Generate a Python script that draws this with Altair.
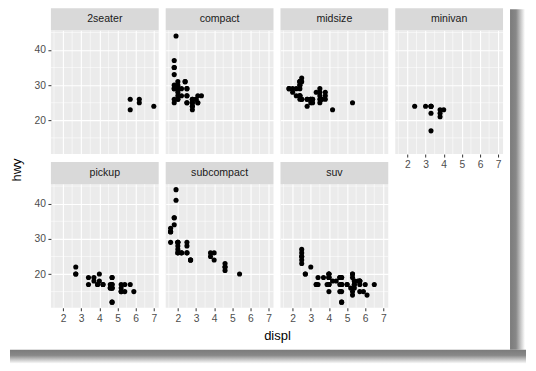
import altair as alt
import pandas as pd

# ---- data (mpg: displ vs hwy by class) ----
TWOSEATER_DISPL = [5.7, 5.7, 6.2, 6.2, 7.0]
TWOSEATER_HWY = [26, 23, 26, 25, 24]

COMPACT_DISPL = [1.8, 1.8, 2.0, 2.0, 2.8, 2.8, 3.1,
                 1.8, 1.8, 2.0, 2.0, 2.8, 2.8, 3.1, 3.1,
                 2.5, 2.5, 2.5, 2.5,
                 2.2, 2.2, 2.4, 2.4, 3.0, 3.0, 3.3,
                 1.8, 1.8, 1.8, 1.8, 1.8,
                 2.0, 2.0, 2.0, 2.0, 2.8,
                 1.9, 2.0, 2.0, 2.0, 2.0, 2.5, 2.5, 2.8, 2.8]
COMPACT_HWY = [29, 29, 31, 30, 26, 26, 27,
               26, 25, 28, 27, 25, 25, 25, 25,
               27, 25, 25, 27,
               27, 29, 31, 31, 26, 26, 27,
               30, 33, 35, 37, 35,
               29, 26, 29, 29, 24,
               44, 29, 26, 29, 29, 29, 29, 23, 24]

MIDSIZE_DISPL = [2.8, 3.1, 4.2,
                 2.4, 2.4, 3.1, 3.5, 3.6,
                 2.4, 2.4, 2.4, 2.4, 2.5, 2.5, 3.3,
                 2.4, 2.4, 2.5, 2.5, 3.5, 3.5,
                 3.0, 3.0, 3.5,
                 3.1, 3.8, 3.8, 3.8, 5.3,
                 2.2, 2.2, 2.4, 2.4, 3.0, 3.0, 3.5,
                 1.8, 1.8, 2.0, 2.0, 2.8, 2.8, 3.6]
MIDSIZE_HWY = [24, 25, 23,
               27, 30, 26, 29, 26,
               26, 27, 30, 31, 26, 26, 28,
               29, 27, 31, 32, 27, 26,
               26, 25, 25,
               26, 26, 27, 28, 25,
               29, 27, 31, 31, 26, 26, 28,
               29, 29, 28, 29, 26, 26, 26]

MINIVAN_DISPL = [2.4, 3.0, 3.3, 3.3, 3.3, 3.3, 3.3, 3.8, 3.8, 3.8, 4.0]
MINIVAN_HWY = [24, 24, 22, 24, 24, 24, 17, 22, 21, 23, 23]

PICKUP_DISPL = [3.7, 3.7, 3.9, 3.9, 4.7, 4.7, 4.7, 5.2, 5.2,
                4.7, 4.7, 4.7, 4.7, 4.7, 4.7, 5.2, 5.2, 5.7, 5.9,
                4.2, 4.2, 4.6, 4.6, 4.6, 5.4, 5.4,
                2.7, 2.7, 2.7, 3.4, 3.4, 4.0, 4.0]
PICKUP_HWY = [19, 18, 17, 17, 19, 19, 12, 17, 15,
              16, 12, 17, 17, 16, 16, 15, 16, 17, 15,
              17, 17, 16, 16, 17, 15, 17,
              20, 20, 22, 17, 19, 18, 20]

SUBCOMPACT_DISPL = [3.8, 3.8, 4.0, 4.0, 4.6, 4.6, 4.6, 4.6, 5.4,
                    1.6, 1.6, 1.6, 1.6, 1.6, 1.8, 1.8, 1.8, 2.0,
                    2.0, 2.0, 2.0, 2.0, 2.7, 2.7, 2.7,
                    2.2, 2.2, 2.5, 2.5,
                    1.9, 1.9, 2.0, 2.0, 2.5, 2.5]
SUBCOMPACT_HWY = [26, 25, 26, 24, 21, 22, 23, 22, 20,
                  33, 32, 32, 29, 32, 34, 36, 36, 29,
                  26, 29, 28, 27, 24, 24, 24,
                  26, 26, 26, 26,
                  44, 41, 29, 26, 28, 29]

SUV_DISPL = [5.3, 5.3, 5.3, 5.7, 6.0,
             5.3, 5.3, 5.7, 6.5,
             3.9, 4.7, 4.7, 4.7, 5.2, 5.7, 5.9,
             4.6, 5.4, 5.4,
             4.0, 4.0, 4.0, 4.0, 4.6, 5.0,
             3.0, 3.7, 4.0, 4.7, 4.7, 4.7, 5.7, 6.1,
             4.0, 4.2, 4.4, 4.6,
             5.4, 5.4, 5.4,
             4.0, 4.0, 4.6, 5.0,
             3.3, 3.3, 4.0, 5.6,
             2.5, 2.5, 2.5, 2.5, 2.5, 2.5,
             2.7, 2.7, 3.4, 3.4, 4.0, 4.7,
             4.7, 5.7]
SUV_HWY = [20, 15, 20, 17, 17,
           19, 14, 15, 17,
           17, 17, 12, 17, 16, 18, 15,
           17, 17, 18,
           17, 19, 17, 19, 19, 17,
           22, 19, 20, 17, 12, 19, 18, 14,
           15, 18, 18, 15,
           17, 16, 18,
           17, 19, 19, 17,
           17, 17, 20, 18,
           25, 24, 27, 25, 26, 23,
           20, 20, 19, 17, 20, 19,
           15, 18]

CLASSES = ["2seater", "compact", "midsize", "minivan", "pickup", "subcompact", "suv"]
DISPL = [TWOSEATER_DISPL, COMPACT_DISPL, MIDSIZE_DISPL, MINIVAN_DISPL,
         PICKUP_DISPL, SUBCOMPACT_DISPL, SUV_DISPL]
HWY = [TWOSEATER_HWY, COMPACT_HWY, MIDSIZE_HWY, MINIVAN_HWY,
       PICKUP_HWY, SUBCOMPACT_HWY, SUV_HWY]
# panels that carry x / y tick labels
SHOW_X = ["minivan", "pickup", "subcompact", "suv"]
SHOW_Y = ["2seater", "pickup"]
X_TITLE, Y_TITLE = "displ", "hwy"

X_MAJOR = [2, 3, 4, 5, 6, 7]
X_MINOR = [1.5, 2.5, 3.5, 4.5, 5.5, 6.5]
Y_MAJOR = [20, 30, 40]
Y_MINOR = [15, 25, 35, 45]
X_DOMAIN = [1.33, 7.27]
Y_DOMAIN = [10.4, 45.6]

rows = []
for c, xs_, ys_ in zip(CLASSES, DISPL, HWY):
    for a, b in zip(xs_, ys_):
        rows.append({"cls": c, "displ": a, "hwy": b})
df = pd.DataFrame(rows)

FONT = "Liberation Sans"
W, H, STRIP = 108, 124, 22

xscale = alt.Scale(domain=X_DOMAIN, nice=False, zero=False)
yscale = alt.Scale(domain=Y_DOMAIN, nice=False, zero=False)


def grad(vertical):
    return alt.LinearGradient(
        gradient="linear",
        stops=[alt.GradientStop(color="#7b7b7b", offset=0),
               alt.GradientStop(color="#888888", offset=0.4),
               alt.GradientStop(color="#c9c9c9", offset=0.72),
               alt.GradientStop(color="#ffffff", offset=1)],
        x1=0, y1=0, x2=0 if vertical else 1, y2=1 if vertical else 0,
    )


def cell(c):
    sx = c in SHOW_X
    sy = c in SHOW_Y
    xaxis = alt.Axis(values=X_MAJOR, format="d", title=None, labels=sx, ticks=sx)
    yaxis = alt.Axis(values=Y_MAJOR, format="d", title=None, labels=sy, ticks=sy)
    one = alt.Chart().transform_aggregate(n="count()", groupby=["cls"])

    minor_x = one.transform_calculate(gx=str(X_MINOR)).transform_flatten(["gx"]).mark_rule(
        color="white", strokeWidth=0.55
    ).encode(x=alt.X("gx:Q", scale=xscale, axis=xaxis))

    minor_y = one.transform_calculate(gy=str(Y_MINOR)).transform_flatten(["gy"]).mark_rule(
        color="white", strokeWidth=0.55
    ).encode(y=alt.Y("gy:Q", scale=yscale, axis=yaxis))

    points = alt.Chart().mark_circle(size=26, color="black", opacity=1).encode(
        x=alt.X("displ:Q", scale=xscale, axis=xaxis),
        y=alt.Y("hwy:Q", scale=yscale, axis=yaxis),
    )

    strip_rect = one.mark_rect(color="#d9d9d9").encode(
        x=alt.value(0), x2=alt.value(W), y=alt.value(-STRIP), y2=alt.value(0)
    )
    strip_text = one.mark_text(
        font=FONT, fontSize=10.6, color="#1a1a1a", baseline="middle", align="center"
    ).encode(text="cls:N", x=alt.value(W / 2), y=alt.value(-STRIP / 2))

    layers = [minor_x, minor_y, points, strip_rect, strip_text]

    if c == "minivan":  # card shadow, right edge
        layers.append(one.mark_rect(color=grad(False)).encode(
            x=alt.value(W + 7), x2=alt.value(W + 22), y=alt.value(-21), y2=alt.value(H + 196)
        ))
    if c == "pickup":  # card shadow, bottom edge + y title
        layers.append(one.mark_rect(color=grad(True)).encode(
            x=alt.value(-41), x2=alt.value(476), y=alt.value(H + 42), y2=alt.value(H + 56)
        ))
        layers.append(one.mark_text(
            text=Y_TITLE, font=FONT, fontSize=13, color="black", angle=270,
            baseline="middle", align="center"
        ).encode(x=alt.value(-33.5), y=alt.value(-14)))
    if c == "subcompact":  # x title
        layers.append(one.mark_text(
            text=X_TITLE, font=FONT, fontSize=13, color="black",
            baseline="middle", align="center"
        ).encode(x=alt.value(112), y=alt.value(H + 28)))

    return alt.layer(*layers, data=df).transform_filter(
        alt.datum.cls == c
    ).properties(width=W, height=H)


chart = alt.concat(
    *[cell(c) for c in CLASSES],
    columns=4,
    spacing={"row": 30, "column": 7},
    bounds="flush",
).properties(
    padding={"left": 2, "top": 0, "right": 2, "bottom": 2}
).configure_view(
    fill="#ebebeb", strokeWidth=0
).configure_axis(
    domain=False, grid=True, gridColor="white", gridWidth=1.1,
    labelFont=FONT, labelFontSize=10.3, labelColor="#4d4d4d",
    tickColor="#333333", tickSize=3, tickWidth=1, labelPadding=2.5,
)

chart.save("out.html", embed_options={"renderer": "svg", "actions": False})
